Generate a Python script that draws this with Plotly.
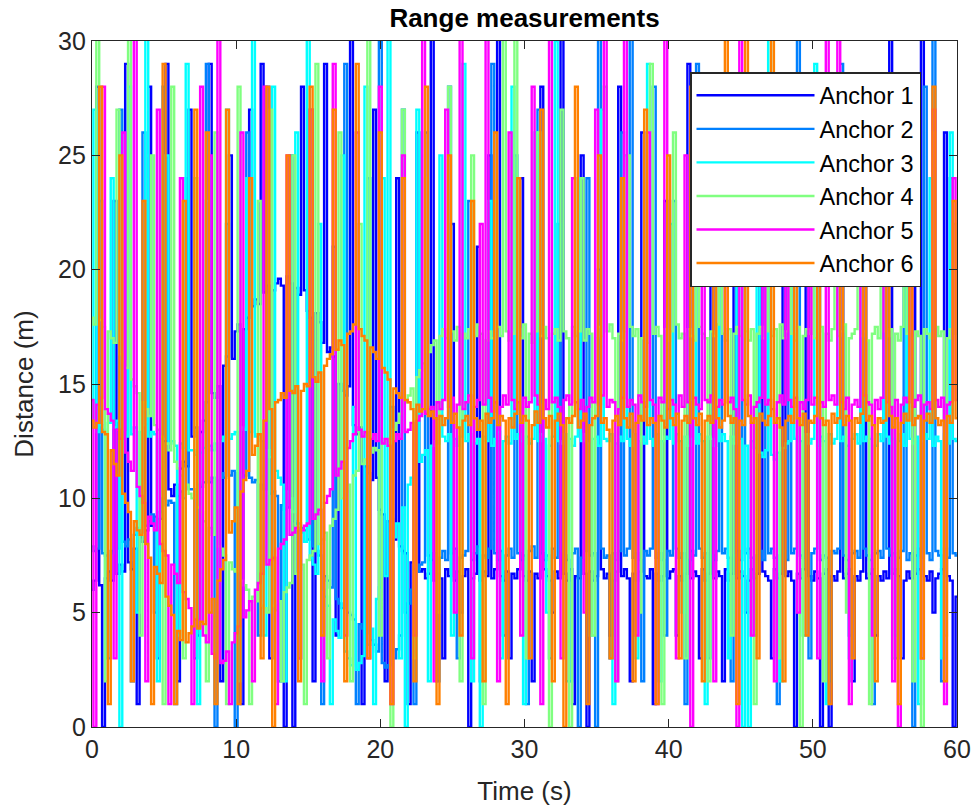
import plotly.graph_objects as go

# Time axis: samples every 0.2 s from 0 to 60 s
SAMPLE_STEP = 0.2
time_s = [round(i * SAMPLE_STEP, 1) for i in range(301)]

series_names = ["Anchor 1", "Anchor 2", "Anchor 3", "Anchor 4", "Anchor 5", "Anchor 6"]
series_colors = ["#0000FF", "#0080FF", "#00FFFF", "#80FF80", "#FF00FF", "#FF8000"]

# one row = one second (5 samples)
anchor1 = [
    6.0, 6.4, 28, 6.2, 0,
    6.5, 6.8, 6.4, 23, 6.7,
    7.1, 6.8, 29, 7.2, 6.9,
    7.8, 1, 8.3, 8.1, 8.6,
    28, 8.8, 9.2, 3, 9.1,
    10.0, 29, 10.4, 10.1, 10.6,
    2, 11.3, 11.6, 11.4, 27,
    12.7, 13.1, 4, 12.9, 13.4,
    14.2, 29, 14.6, 14.4, 14.9,
    2, 15.8, 16.2, 25, 16.1,
    17.3, 17.6, 1, 17.4, 17.9,
    27, 18.4, 18.7, 18.5, 29,
    19.0, 19.3, 3, 19.1, 19.4,
    19.6, 19.3, 0, 19.7, 19.4,
    0, 19.2, 18.9, 28, 19.1,
    18.2, 17.9, 2, 18.1, 17.7,
    16.8, 29, 16.4, 16.6, 16.2,
    4, 15.0, 14.7, 14.5, 14.9,
    31, 13.2, 12.8, 13.1, 1,
    11.4, 11.1, 10.8, 27, 10.9,
    9.5, 9.3, 2, 9.0, 9.1,
    8.2, 24, 7.9, 7.7, 7.6,
    1, 7.2, 6.9, 26, 6.8,
    6.9, 6.5, 6.7, 31, 6.4,
    6.7, 6.5, 3, 6.9, 6.6,
    22, 6.4, 6.8, 5, 6.6,
    6.9, 0, 6.5, 6.7, 21,
    6.4, 6.8, 6.6, 25, 6.5,
    6.9, 31, 6.6, 6.4, 6.8,
    3, 6.7, 6.5, 6.9, 24,
    6.6, 6.4, 6.8, 2, 6.7,
    6.5, 28, 6.9, 6.6, 6.4,
    5, 6.8, 6.5, 31, 6.7,
    6.4, 6.9, 1, 6.6, 6.5,
    25, 6.7, 0, 6.8, 6.4,
    6.6, 20, 6.9, 6.5, 6.7,
    4, 6.4, 6.8, 28, 6.6,
    6.9, 6.5, 2, 6.7, 6.4,
    6.8, 26, 6.6, 6.5, 6.9,
    1, 6.7, 6.4, 6.6, 23,
    6.5, 6.8, 6.9, 4, 6.6,
    6.4, 6.7, 29, 6.5, 6.8,
    6.6, 3, 6.9, 6.4, 6.7,
    26, 6.5, 6.8, 6.6, 2,
    6.9, 6.4, 6.7, 22, 6.5,
    6.8, 6.6, 5, 6.4, 6.9,
    6.5, 6.7, 27, 6.8, 6.6,
    6.4, 3, 6.9, 6.5, 6.7,
    25, 6.6, 6.8, 6.4, 0,
    6.7, 6.5, 6.9, 28, 6.6,
    6.4, 6.8, 6.5, 0, 6.7,
    6.9, 0, 6.6, 6.4, 6.8,
    24, 6.5, 6.7, 6.9, 2,
    6.6, 6.4, 6.8, 27, 6.5,
    6.7, 6.9, 4, 6.6, 6.4,
    6.8, 6.5, 31, 6.7, 6.9,
    6.6, 3, 6.4, 6.8, 6.5,
    21, 6.7, 6.9, 31, 6.6,
    6.4, 6.8, 5, 6.5, 6.7,
    6.9, 26, 6.6, 6.4, 0,
    5.7,
]

anchor2 = [
    7.9, 7.7, 7.8, 23, 7.6,
    7.5, 3, 7.7, 7.6, 7.8,
    27, 8.1, 7.9, 8.2, 2,
    8.4, 8.7, 8.5, 26, 8.8,
    9.0, 9.3, 5, 9.1, 9.4,
    28, 9.7, 9.9, 9.8, 1,
    10.1, 10.3, 10.0, 24, 10.4,
    10.4, 3, 10.6, 10.5, 10.7,
    29, 10.7, 10.9, 0, 10.8,
    11.1, 10.9, 22, 11.0, 11.2,
    0, 11.1, 10.9, 11.0, 26,
    10.9, 10.7, 10.8, 4, 10.6,
    10.4, 28, 10.2, 10.3, 10.1,
    2, 9.7, 9.5, 9.6, 25,
    9.0, 8.9, 3, 8.7, 8.6,
    8.2, 27, 7.9, 7.7, 7.5,
    1, 6.6, 6.4, 6.1, 21,
    5.6, 5.4, 5.2, 29, 5.0,
    4.9, 4.7, 1, 4.5, 4.3,
    4.1, 24, 3.8, 3.6, 3.3,
    31, 2.8, 2.6, 2.7, 14,
    3.0, 3.4, 4.0, 27, 5.0,
    5.4, 6.0, 1, 6.8, 7.1,
    7.2, 26, 7.5, 7.3, 7.6,
    2, 7.4, 7.7, 7.3, 28,
    7.6, 7.8, 3, 7.4, 7.5,
    7.7, 23, 7.3, 7.6, 7.9,
    2, 7.5, 7.4, 7.8, 29,
    7.6, 7.3, 7.7, 4, 7.5,
    7.8, 7.4, 25, 7.6, 7.3,
    7.5, 1, 7.7, 7.9, 7.4,
    27, 7.6, 7.3, 7.5, 3,
    7.8, 7.4, 22, 7.7, 7.5,
    7.3, 2, 7.6, 7.8, 0,
    7.4, 7.7, 24, 7.5, 7.6,
    0, 31, 7.8, 7.4, 7.5,
    3, 7.6, 7.3, 7.7, 26,
    7.5, 7.8, 31, 7.4, 7.6,
    7.3, 2, 7.7, 7.5, 7.8,
    28, 7.4, 7.6, 7.3, 4,
    7.7, 7.5, 23, 7.8, 7.4,
    7.6, 1, 7.3, 7.7, 7.5,
    29, 7.8, 7.4, 7.6, 3,
    7.5, 7.3, 7.7, 25, 7.6,
    7.8, 7.4, 2, 7.5, 7.7,
    7.3, 27, 7.6, 7.8, 7.4,
    4, 7.5, 7.7, 7.3, 24,
    7.6, 7.8, 7.4, 1, 7.5,
    7.7, 7.3, 28, 7.6, 7.8,
    31, 7.5, 7.4, 7.7, 3,
    7.6, 7.8, 26, 7.3, 7.5,
    7.4, 2, 7.7, 7.6, 7.8,
    29, 7.5, 7.3, 4, 7.6,
    7.7, 7.4, 22, 7.8, 7.5,
    7.3, 1, 7.6, 7.7, 7.4,
    27, 7.8, 7.5, 7.6, 3,
    7.4, 7.7, 25, 7.3, 7.6,
    0, 7.5, 7.8, 7.4, 28,
    7.6, 7.3, 31, 7.7, 7.5,
    2, 7.8, 7.4, 24, 7.6,
    7.5,
]

anchor3 = [
    13.1, 27, 12.9, 13.2, 13.0,
    3, 13.3, 24, 13.1, 13.4,
    0, 12.9, 12.7, 28, 12.8,
    13.1, 5, 12.9, 13.2, 31,
    12.7, 12.9, 12.8, 2, 12.6,
    12.6, 25, 12.4, 12.5, 12.3,
    4, 12.4, 12.2, 29, 12.1,
    12.1, 11.9, 1, 12.0, 12.2,
    23, 12.3, 12.1, 12.4, 3,
    12.5, 12.7, 27, 12.6, 12.8,
    12.9, 2, 13.1, 13.0, 24,
    12.9, 31, 12.7, 12.8, 12.5,
    4, 12.1, 11.8, 28, 11.2,
    10.9, 10.6, 2, 10.3, 10.0,
    9.4, 26, 8.9, 8.5, 8.1,
    31, 7.4, 7.1, 6.7, 22,
    6.0, 5.7, 5.3, 1, 4.7,
    4.2, 3.9, 25, 3.3, 3.0,
    2.7, 14, 2.5, 2.8, 3.1,
    28, 3.6, 4.3, 1, 5.6,
    6.1, 24, 6.6, 31, 7.6,
    8.3, 8.9, 3, 9.6, 0,
    10.6, 10.9, 11.2, 27, 11.6,
    11.9, 12.1, 2, 12.3, 12.5,
    12.4, 25, 12.7, 12.5, 12.8,
    4, 12.6, 12.3, 12.7, 29,
    12.5, 12.8, 2, 12.4, 12.6,
    0, 12.7, 12.5, 23, 12.3,
    12.6, 12.9, 3, 12.5, 12.7,
    12.4, 28, 12.6, 12.8, 12.5,
    1, 12.7, 12.4, 12.6, 26,
    12.5, 12.8, 12.6, 5, 12.3,
    12.7, 30, 12.5, 12.4, 12.8,
    2, 12.6, 12.3, 12.7, 24,
    12.5, 12.8, 12.4, 4, 12.6,
    12.7, 12.3, 27, 12.6, 12.5,
    12.8, 1, 12.4, 12.7, 12.5,
    25, 12.6, 12.3, 12.8, 3,
    12.5, 12.7, 12.4, 29, 12.6,
    12.3, 12.8, 2, 12.5, 12.7,
    12.6, 22, 12.4, 12.8, 12.5,
    5, 12.7, 12.3, 12.6, 27,
    12.4, 12.8, 12.5, 1, 12.7,
    12.6, 12.3, 26, 12.5, 12.8,
    12.5, 3, 12.7, 12.4, 24,
    12.6, 0, 12.3, 0, 12.5,
    12.2, 28, 12.0, 11.8, 12.1,
    31, 11.9, 11.7, 12.0, 2,
    12.2, 12.4, 12.5, 25, 12.6,
    12.7, 12.5, 4, 12.8, 12.4,
    12.6, 29, 12.3, 12.7, 12.5,
    1, 12.8, 12.4, 12.6, 23,
    12.5, 12.7, 12.3, 3, 12.6,
    12.8, 12.4, 27, 12.5, 12.7,
    12.6, 2, 12.3, 12.8, 12.5,
    25, 12.7, 12.4, 12.6, 4,
    12.5, 12.8, 12.3, 28, 12.6,
    12.4, 12.7, 1, 12.5, 12.8,
    12.6, 24, 12.3, 12.7, 12.5,
    3, 12.8, 12.4, 26, 12.6,
    12.5,
]

anchor4 = [
    17.9, 17.6, 31, 17.8, 17.5,
    2, 17.3, 17.0, 16.8, 27,
    16.3, 16.0, 15.7, 31, 15.2,
    14.9, 14.6, 4, 14.2, 13.9,
    13.6, 25, 13.2, 13.0, 12.7,
    1, 12.4, 12.1, 28, 11.6,
    11.3, 11.0, 3, 10.6, 10.2,
    10.0, 24, 9.6, 9.4, 9.0,
    2, 8.7, 8.4, 26, 7.9,
    7.8, 7.5, 1, 7.2, 6.9,
    6.8, 28, 6.4, 6.2, 6.0,
    1, 5.7, 5.5, 23, 5.3,
    5.2, 5.0, 27, 5.3, 5.1,
    5.5, 2, 5.9, 6.1, 6.3,
    25, 6.7, 6.9, 7.1, 1,
    7.3, 7.5, 7.7, 29, 8.0,
    8.2, 8.5, 3, 8.8, 9.1,
    9.5, 26, 10.0, 10.3, 10.6,
    2, 11.0, 11.2, 22, 11.5,
    11.7, 31, 12.0, 12.2, 12.1,
    4, 12.4, 12.6, 12.5, 0,
    13.0, 13.3, 13.7, 27, 14.2,
    14.5, 14.8, 3, 15.3, 15.6,
    15.9, 24, 16.4, 16.7, 16.9,
    5, 17.1, 17.4, 17.0, 28,
    17.3, 16.9, 17.5, 2, 17.2,
    17.0, 17.4, 25, 17.1, 17.6,
    17.2, 1, 16.9, 17.3, 17.0,
    23, 17.5, 17.1, 31, 17.3,
    16.9, 17.2, 31, 17.4, 17.0,
    17.6, 3, 17.2, 16.8, 17.3,
    26, 17.1, 17.5, 17.0, 0,
    17.2, 17.4, 16.9, 27, 17.3,
    17.0, 0, 17.5, 17.1, 17.3,
    24, 16.9, 17.4, 17.2, 4,
    17.0, 17.5, 17.1, 28, 17.3,
    17.6, 17.0, 2, 17.2, 16.9,
    17.3, 25, 17.5, 17.1, 17.4,
    5, 17.0, 17.3, 16.8, 29,
    17.2, 17.5, 17.1, 1, 17.4,
    16.9, 17.3, 26, 17.6, 17.0,
    17.2, 3, 17.4, 17.1, 16.9,
    23, 17.5, 17.2, 17.0, 2,
    17.3, 17.1, 17.6, 27, 17.2,
    16.9, 17.4, 4, 17.2, 17.5,
    17.1, 25, 17.3, 16.9, 17.4,
    1, 17.2, 17.5, 17.0, 28,
    17.3, 17.1, 17.4, 3, 17.6,
    17.0, 17.3, 24, 17.2, 16.9,
    17.5, 0, 17.1, 17.4, 17.2,
    27, 17.0, 17.3, 17.5, 2,
    17.2, 16.9, 17.4, 25, 17.1,
    17.3, 17.6, 5, 17.0, 17.2,
    17.4, 28, 17.1, 17.3, 16.9,
    1, 17.2, 17.5, 17.0, 24,
    17.3, 17.1, 17.4, 3, 17.2,
    16.9, 17.5, 27, 17.2, 17.0,
    2, 17.3, 17.1, 0, 17.4,
    17.2, 17.0, 26, 17.5, 17.1,
    17.3, 4, 17.0, 17.4, 22,
    17.2,
]

anchor5 = [
    14.3, 0, 14.1, 14.4, 28,
    13.9, 13.7, 13.4, 3, 13.0,
    12.6, 26, 12.0, 11.6, 11.2,
    31, 10.5, 10.1, 9.8, 2,
    9.2, 8.9, 8.6, 27, 8.0,
    7.7, 7.5, 1, 7.1, 6.7,
    6.3, 24, 5.9, 5.6, 5.2,
    1, 4.7, 4.4, 28, 4.0,
    3.7, 25, 3.2, 3.0, 31,
    2.8, 2.9, 3.3, 1, 3.7,
    4.1, 4.4, 26, 4.8, 5.1,
    5.5, 2, 6.0, 6.3, 6.7,
    28, 7.1, 7.3, 7.4, 1,
    7.8, 8.0, 8.2, 25, 8.4,
    8.5, 8.7, 3, 8.6, 8.8,
    8.9, 27, 9.1, 9.3, 9.5,
    2, 9.8, 10.1, 10.4, 29,
    11.0, 11.3, 11.6, 4, 12.2,
    12.5, 12.8, 26, 13.0, 12.7,
    12.9, 3, 12.6, 12.8, 12.5,
    28, 12.4, 12.6, 12.3, 1,
    12.5, 12.8, 12.6, 25, 12.9,
    13.0, 13.3, 4, 13.4, 13.6,
    31, 13.7, 13.9, 14.0, 2,
    14.2, 13.9, 14.3, 27, 14.0,
    14.4, 5, 14.1, 31, 13.9,
    14.2, 14.5, 3, 14.0, 14.3,
    22, 14.1, 31, 14.4, 13.8,
    14.2, 2, 14.0, 14.5, 14.1,
    26, 14.3, 13.9, 14.2, 4,
    14.4, 14.0, 14.2, 28, 14.5,
    14.1, 1, 14.3, 13.9, 31,
    14.2, 14.4, 14.0, 3, 14.3,
    14.5, 14.1, 24, 14.2, 13.9,
    14.3, 5, 14.0, 14.4, 14.2,
    27, 14.1, 14.5, 31, 14.0,
    14.3, 14.2, 2, 13.9, 14.4,
    31, 14.0, 14.3, 14.1, 4,
    14.5, 14.2, 14.0, 26, 14.3,
    14.1, 1, 14.4, 14.2, 31,
    13.9, 14.3, 14.1, 3, 14.5,
    14.0, 25, 14.2, 0, 14.4,
    14.1, 13.9, 28, 14.3, 14.2,
    14.5, 2, 14.0, 14.3, 14.1,
    24, 14.2, 14.4, 13.9, 0,
    31, 14.3, 14.1, 14.5, 4,
    14.0, 14.2, 14.4, 27, 14.1,
    14.3, 13.9, 2, 14.2, 14.5,
    14.1, 25, 14.3, 14.0, 14.4,
    5, 14.2, 13.9, 14.3, 28,
    14.1, 14.4, 3, 14.2, 14.0,
    31, 14.3, 14.5, 14.1, 31,
    14.2, 13.9, 14.4, 1, 14.1,
    14.3, 14.0, 26, 14.5, 14.2,
    14.1, 4, 14.3, 13.9, 14.4,
    28, 14.2, 14.0, 2, 14.3,
    0, 14.1, 14.4, 14.2, 25,
    14.0, 14.3, 14.5, 3, 14.1,
    14.2, 13.9, 27, 14.3, 14.0,
    14.4, 1, 14.1, 14.2, 24,
    14.3,
]

anchor6 = [
    13.4, 13.1, 13.3, 28, 12.9,
    12.8, 1, 12.1, 11.5, 11.0,
    25, 10.2, 9.8, 9.4, 2,
    9.0, 8.6, 8.4, 23, 8.0,
    7.4, 1, 7.0, 6.7, 6.3,
    29, 5.7, 5.3, 4.9, 1,
    4.2, 3.8, 23, 3.7, 4.1,
    4.4, 27, 4.3, 4.6, 4.5,
    26, 5.0, 5.6, 1, 6.4,
    6.9, 7.3, 27, 8.5, 9.0,
    9.6, 1, 10.3, 10.8, 11.2,
    24, 11.9, 12.3, 12.8, 3,
    13.4, 28, 13.9, 0, 14.2,
    14.3, 14.6, 14.4, 25, 14.7,
    14.6, 14.9, 2, 14.7, 15.0,
    14.9, 28, 15.3, 15.1, 15.5,
    4, 15.8, 16.1, 16.3, 27,
    16.5, 16.9, 16.7, 2, 17.2,
    17.3, 17.6, 29, 17.4, 17.1,
    16.9, 3, 16.6, 16.4, 16.1,
    26, 15.7, 15.5, 15.2, 1,
    14.8, 14.6, 14.4, 24, 14.3,
    14.2, 13.9, 2, 14.1, 13.8,
    13.9, 28, 13.6, 13.8, 13.5,
    1, 13.6, 13.2, 13.5, 25,
    13.3, 13.7, 13.1, 4, 13.4,
    13.6, 13.2, 23, 13.5, 13.0,
    13.4, 2, 13.7, 13.3, 13.5,
    26, 13.2, 13.6, 13.4, 1,
    13.5, 13.1, 13.7, 24, 13.3,
    13.6, 13.4, 3, 13.2, 13.8,
    13.3, 27, 13.5, 13.1, 13.6,
    2, 13.4, 13.7, 13.2, 0,
    13.5, 13.3, 13.6, 28, 13.1,
    13.4, 13.7, 1, 13.2, 13.5,
    13.6, 25, 13.3, 13.5, 13.0,
    3, 13.4, 13.6, 13.2, 24,
    13.5, 13.1, 13.7, 2, 13.3,
    13.6, 13.4, 27, 13.2, 13.5,
    13.3, 1, 13.6, 13.4, 13.1,
    25, 13.5, 13.2, 13.7, 3,
    13.4, 13.6, 13.3, 28, 13.5,
    13.2, 13.7, 2, 13.4, 13.6,
    13.3, 23, 13.5, 13.1, 13.4,
    31, 13.6, 13.3, 13.5, 1,
    13.4, 13.2, 31, 13.6, 13.3,
    13.5, 3, 13.7, 13.4, 13.2,
    13.6, 31, 13.3, 13.5, 13.1,
    2, 13.4, 13.6, 13.3, 26,
    13.5, 13.2, 13.7, 4, 13.4,
    13.3, 13.6, 25, 13.5, 13.2,
    13.4, 1, 13.7, 13.3, 13.5,
    28, 13.2, 13.6, 13.4, 3,
    13.5, 13.3, 13.7, 24, 13.4,
    13.6, 13.2, 2, 13.5, 13.3,
    13.4, 27, 13.6, 13.1, 13.5,
    1, 13.3, 13.7, 13.4, 26,
    13.2, 13.5, 13.6, 3, 13.4,
    13.7, 13.3, 28, 13.5, 13.2,
    13.4, 2, 13.6, 13.3, 23,
    13.5,
]

all_series = [anchor1, anchor2, anchor3, anchor4, anchor5, anchor6]

x_ticks = [0, 10, 20, 30, 40, 50, 60]
y_ticks = [0, 5, 10, 15, 20, 25, 30]

FONT = "Liberation Sans, Arial, sans-serif"
AXIS_COLOR = "#262626"

fig = go.Figure()
for name, color, values in zip(series_names, series_colors, all_series):
    fig.add_trace(go.Scatter(
        x=time_s, y=values, mode="lines", name=name,
        line=dict(color=color, width=2.4, shape="hvh"),
    ))

axis_common = dict(
    showline=True, linecolor=AXIS_COLOR, linewidth=1.3, mirror="ticks",
    ticks="inside", ticklen=8, tickwidth=1.3, tickcolor=AXIS_COLOR,
    showgrid=False, zeroline=False, automargin=False,
    tickfont=dict(family=FONT, size=25, color=AXIS_COLOR),
)

fig.update_layout(
    width=973, height=807,
    margin=dict(l=92, r=16, t=41, b=80, autoexpand=False),
    paper_bgcolor="white", plot_bgcolor="white",
    title=dict(text="<b>Range measurements</b>", x=0.5, xref="paper", xanchor="center",
               y=1 - 18 / 807, yref="container", yanchor="middle",
               font=dict(family=FONT, size=26, color="black")),
    xaxis=dict(range=[0, 60], tickvals=x_ticks,
               title=dict(text="Time (s)", font=dict(family=FONT, size=26, color=AXIS_COLOR), standoff=19),
               **axis_common),
    yaxis=dict(range=[0, 30], tickvals=y_ticks,
               title=dict(text="Distance (m)", font=dict(family=FONT, size=26, color=AXIS_COLOR), standoff=16),
               **axis_common),
    legend=dict(x=(690 - 92) / 865, y=(727 - 72) / 686, xanchor="left", yanchor="top",
                bgcolor="white", bordercolor=AXIS_COLOR, borderwidth=1.5,
                font=dict(family=FONT, size=23.5, color="black"),
                itemwidth=118, tracegroupgap=0),
    showlegend=True,
)

fig.write_html("out.html")
